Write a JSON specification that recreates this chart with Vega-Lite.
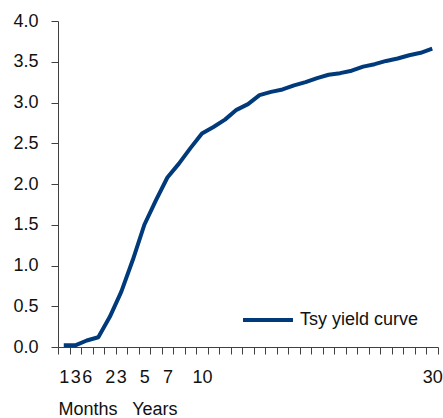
{
  "$schema": "https://vega.github.io/schema/vega-lite/v6.json",
  "width": 380,
  "height": 326,
  "autosize": {"type": "none"},
  "padding": {"left": 58, "top": 21, "right": 5, "bottom": 71},
  "background": "white",
  "config": {
    "view": {"stroke": null},
    "font": "Liberation Sans",
    "axis": {"domainColor": "#404040", "tickColor": "#404040", "labelColor": "#111", "titleColor": "#111", "grid": false, "labelFont": "Liberation Sans", "titleFont": "Liberation Sans"}
  },
  "data": {
    "values": [
      {"tenor": "1M", "yield": 0.02, "series": "Tsy yield curve"},
      {"tenor": "3M", "yield": 0.02, "series": "Tsy yield curve"},
      {"tenor": "6M", "yield": 0.08, "series": "Tsy yield curve"},
      {"tenor": "1Y", "yield": 0.12, "series": "Tsy yield curve"},
      {"tenor": "2Y", "yield": 0.37, "series": "Tsy yield curve"},
      {"tenor": "3Y", "yield": 0.68, "series": "Tsy yield curve"},
      {"tenor": "4Y", "yield": 1.07, "series": "Tsy yield curve"},
      {"tenor": "5Y", "yield": 1.50, "series": "Tsy yield curve"},
      {"tenor": "6Y", "yield": 1.80, "series": "Tsy yield curve"},
      {"tenor": "7Y", "yield": 2.08, "series": "Tsy yield curve"},
      {"tenor": "8Y", "yield": 2.25, "series": "Tsy yield curve"},
      {"tenor": "9Y", "yield": 2.44, "series": "Tsy yield curve"},
      {"tenor": "10Y", "yield": 2.62, "series": "Tsy yield curve"},
      {"tenor": "11Y", "yield": 2.70, "series": "Tsy yield curve"},
      {"tenor": "12Y", "yield": 2.79, "series": "Tsy yield curve"},
      {"tenor": "13Y", "yield": 2.91, "series": "Tsy yield curve"},
      {"tenor": "14Y", "yield": 2.98, "series": "Tsy yield curve"},
      {"tenor": "15Y", "yield": 3.09, "series": "Tsy yield curve"},
      {"tenor": "16Y", "yield": 3.13, "series": "Tsy yield curve"},
      {"tenor": "17Y", "yield": 3.16, "series": "Tsy yield curve"},
      {"tenor": "18Y", "yield": 3.21, "series": "Tsy yield curve"},
      {"tenor": "19Y", "yield": 3.25, "series": "Tsy yield curve"},
      {"tenor": "20Y", "yield": 3.30, "series": "Tsy yield curve"},
      {"tenor": "21Y", "yield": 3.34, "series": "Tsy yield curve"},
      {"tenor": "22Y", "yield": 3.36, "series": "Tsy yield curve"},
      {"tenor": "23Y", "yield": 3.39, "series": "Tsy yield curve"},
      {"tenor": "24Y", "yield": 3.44, "series": "Tsy yield curve"},
      {"tenor": "25Y", "yield": 3.47, "series": "Tsy yield curve"},
      {"tenor": "26Y", "yield": 3.51, "series": "Tsy yield curve"},
      {"tenor": "27Y", "yield": 3.54, "series": "Tsy yield curve"},
      {"tenor": "28Y", "yield": 3.58, "series": "Tsy yield curve"},
      {"tenor": "29Y", "yield": 3.61, "series": "Tsy yield curve"},
      {"tenor": "30Y", "yield": 3.66, "series": "Tsy yield curve"}
    ]
  },
  "mark": {"type": "line", "strokeWidth": 4, "strokeCap": "butt", "strokeJoin": "round"},
  "encoding": {
    "x": {
      "field": "tenor",
      "type": "ordinal",
      "sort": null,
      "bandPosition": 0.5,
      "scale": {"type": "band", "paddingInner": 0, "paddingOuter": 0},
      "axis": {
        "tickBand": "extent",
        "labelAngle": 0,
        "labelOverlap": false,
        "labelFontSize": 18,
        "labelPadding": 14,
        "tickSize": 7,
        "labelExpr": "indexof(['1M','3M','6M','2Y','3Y','5Y','7Y','10Y','30Y'], datum.value) >= 0 ? replace(replace(datum.value,'M',''),'Y','') : ''",
        "title": "Months\u00a0\u00a0 Years",
        "titleFontSize": 18,
        "titleFontWeight": "normal",
        "titleAnchor": "start",
        "titleAlign": "left",
        "titlePadding": 14
      }
    },
    "y": {
      "field": "yield",
      "type": "quantitative",
      "scale": {"domain": [0, 4], "nice": false},
      "axis": {
        "values": [0, 0.5, 1, 1.5, 2, 2.5, 3, 3.5, 4],
        "format": ".1f",
        "labelFontSize": 18,
        "tickSize": 7,
        "labelPadding": 13,
        "title": null
      }
    },
    "color": {
      "field": "series",
      "type": "nominal",
      "scale": {"range": ["#003A7A"]},
      "legend": {
        "title": null,
        "orient": "none",
        "legendX": 183,
        "legendY": 272,
        "symbolType": "stroke",
        "symbolSize": 2500,
        "symbolStrokeWidth": 4,
        "labelFontSize": 18,
        "labelColor": "#111",
        "labelOffset": 5
      }
    }
  }
}
